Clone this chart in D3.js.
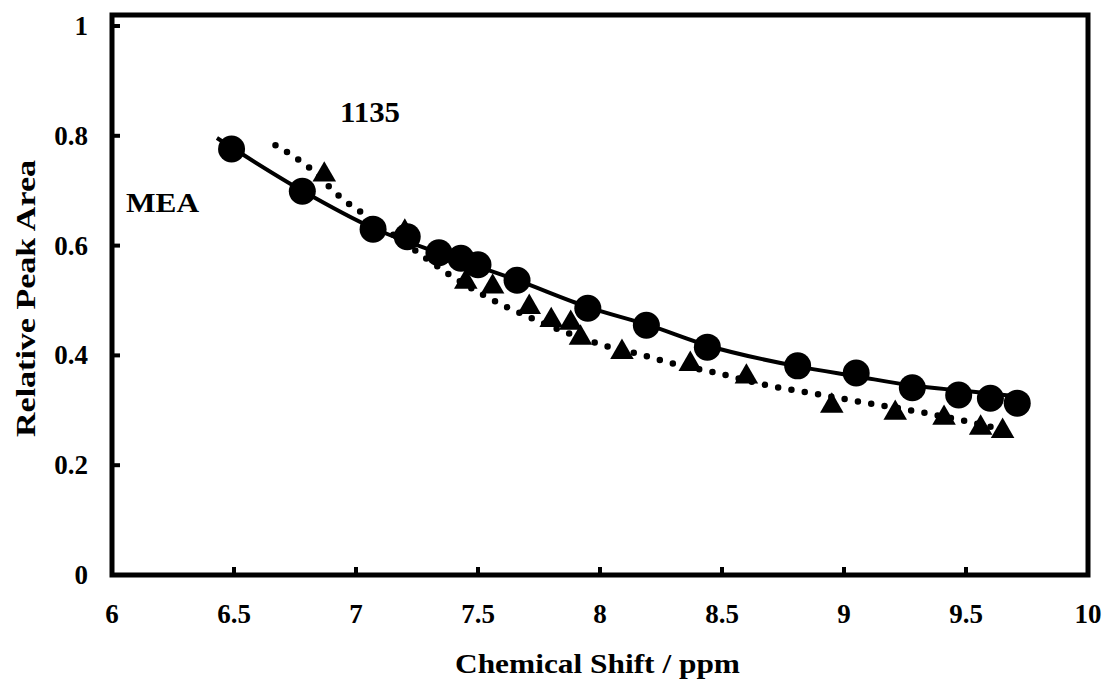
<!DOCTYPE html>
<html>
<head>
<meta charset="utf-8">
<script src="https://cdn.jsdelivr.net/npm/d3@7"></script>
<style>
  body { margin: 0; background: #fff; }
  text { font-family: "Liberation Serif", "Times New Roman", serif; font-weight: bold; fill: #000; }
</style>
</head>
<body>
<div id="chart"></div>
<script>
// circles (solid trend) and triangles (dotted trend)
var circleX = [6.49, 6.78, 7.07, 7.21, 7.34, 7.43, 7.50, 7.66, 7.95, 8.19, 8.44, 8.81, 9.05, 9.28, 9.47, 9.60, 9.71];
var circleY = [0.776, 0.699, 0.630, 0.616, 0.587, 0.577, 0.565, 0.537, 0.486, 0.455, 0.415, 0.381, 0.368, 0.341, 0.328, 0.322, 0.313];

var triX = [6.87, 7.20, 7.45, 7.56, 7.71, 7.80, 7.88, 7.92, 8.09, 8.37, 8.60, 8.95, 9.21, 9.41, 9.56, 9.65];
var triY = [0.729, 0.625, 0.534, 0.525, 0.488, 0.464, 0.459, 0.432, 0.406, 0.384, 0.361, 0.308, 0.295, 0.286, 0.268, 0.262];

// trend lines as drawn
var solidX = [6.43, 6.78, 7.07, 7.35, 7.66, 7.95, 8.20, 8.44, 8.81, 9.05, 9.28, 9.50, 9.72];
var solidY = [0.796, 0.700, 0.632, 0.585, 0.537, 0.488, 0.455, 0.418, 0.380, 0.362, 0.345, 0.335, 0.325];

var dotX = [6.67, 6.80, 6.95, 7.05, 7.20, 7.38, 7.53, 7.74, 8.01, 8.18, 8.29, 8.46, 8.68, 8.91, 9.02, 9.31, 9.48, 9.62];
var dotY = [0.783, 0.745, 0.683, 0.652, 0.605, 0.548, 0.508, 0.464, 0.419, 0.400, 0.386, 0.370, 0.346, 0.328, 0.319, 0.297, 0.282, 0.268];

var xTicks = [6, 6.5, 7, 7.5, 8, 8.5, 9, 9.5, 10];
var yTicks = [0, 0.2, 0.4, 0.6, 0.8, 1];

var W = 1105, H = 683;
var svg = d3.select("#chart").append("svg").attr("width", W).attr("height", H);

var x = d3.scaleLinear().domain([6, 10]).range([112, 1088]);
var y = d3.scaleLinear().domain([0, 1]).range([575, 26]);
var frameTop = 15;

// frame
svg.append("rect")
  .attr("x", x(6)).attr("y", frameTop)
  .attr("width", x(10) - x(6)).attr("height", y(0) - frameTop)
  .attr("fill", "none").attr("stroke", "#000").attr("stroke-width", 5);

// ticks (inside)
svg.selectAll(".xt").data(xTicks.slice(1, -1)).enter().append("line")
  .attr("x1", d => x(d)).attr("x2", d => x(d))
  .attr("y1", y(0)).attr("y2", y(0) - 8)
  .attr("stroke", "#000").attr("stroke-width", 4);
svg.selectAll(".yt").data(yTicks.slice(1)).enter().append("line")
  .attr("x1", x(6)).attr("x2", x(6) + 8)
  .attr("y1", d => y(d)).attr("y2", d => y(d))
  .attr("stroke", "#000").attr("stroke-width", 4);

// tick labels
svg.selectAll(".xl").data(xTicks).enter().append("text")
  .attr("x", d => x(d)).attr("y", 623)
  .attr("text-anchor", "middle").style("font-size", "27px")
  .text(d => d);
svg.selectAll(".yl").data(yTicks).enter().append("text")
  .attr("x", 88).attr("y", d => y(d) + 9)
  .attr("text-anchor", "end").style("font-size", "27px")
  .text(d => d);

// axis titles (the original glyphs are wider, so stretch to the same length)
svg.append("text").attr("x", 455).attr("y", 673)
  .attr("textLength", 285).attr("lengthAdjust", "spacingAndGlyphs")
  .style("font-size", "28px")
  .text("Chemical Shift / ppm");
svg.append("text")
  .attr("transform", "translate(35,437) rotate(-90)")
  .attr("textLength", 277).attr("lengthAdjust", "spacingAndGlyphs")
  .style("font-size", "28px")
  .text("Relative Peak Area");

// annotations
svg.append("text").attr("x", 126).attr("y", 212)
  .attr("textLength", 73).attr("lengthAdjust", "spacingAndGlyphs")
  .style("font-size", "28px").text("MEA");
svg.append("text").attr("x", 340).attr("y", 122)
  .attr("textLength", 60).attr("lengthAdjust", "spacingAndGlyphs")
  .style("font-size", "30px").text("1135");

// trend lines
var line = d3.line().x(d => x(d[0])).y(d => y(d[1])).curve(d3.curveMonotoneX);
svg.append("path")
  .datum(d3.zip(dotX, dotY))
  .attr("d", line)
  .attr("fill", "none").attr("stroke", "#000").attr("stroke-width", 6.5)
  .attr("stroke-linecap", "round").attr("stroke-dasharray", "0 13.5");
svg.append("path")
  .datum(d3.zip(solidX, solidY))
  .attr("d", line)
  .attr("fill", "none").attr("stroke", "#000").attr("stroke-width", 4);

// markers
var tri = d3.symbol().type(d3.symbolTriangle).size(240);
svg.selectAll(".tri").data(d3.zip(triX, triY)).enter().append("path")
  .attr("d", tri)
  .attr("transform", d => "translate(" + x(d[0]) + "," + y(d[1]) + ")")
  .attr("fill", "#000");
svg.selectAll(".dot").data(d3.zip(circleX, circleY)).enter().append("circle")
  .attr("cx", d => x(d[0])).attr("cy", d => y(d[1]))
  .attr("r", 13.5).attr("fill", "#000");
</script>
</body>
</html>
